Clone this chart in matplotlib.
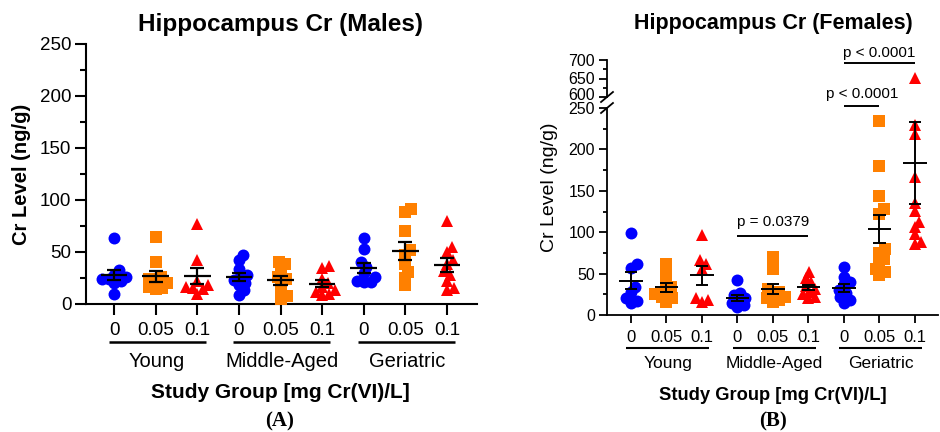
import numpy as np
import matplotlib
matplotlib.use('Agg')
import matplotlib.pyplot as plt
from matplotlib.transforms import blended_transform_factory

plt.rcParams['font.family'] = ['Liberation Sans', 'DejaVu Sans']

# ---------------- data ----------------
doses = ['0', '0.05', '0.1']
ages = ['Young', 'Middle-Aged', 'Geriatric']
dose_colors = ['#0000FF', '#FF8000', '#FF0000']
dose_markers = ['o', 's', '^']

# Males (panel A): each list = one dose group (0, 0.05, 0.1 mg Cr(VI)/L)
males_young = [
    [63, 33, 28, 26, 24, 24, 22, 20, 10],
    [64, 40, 26, 24, 22, 20, 16, 15, 14],
    [77, 42, 22, 18, 16, 15, 14, 10],
]
males_middle = [
    [47, 42, 34, 28, 26, 23, 20, 18, 13, 9],
    [40, 38, 33, 26, 24, 20, 12, 8, 5],
    [37, 35, 24, 20, 16, 13, 12, 10, 9],
]
males_geriatric = [
    [63, 53, 40, 36, 30, 26, 22, 21, 21],
    [91, 88, 70, 52, 47, 38, 31, 25, 18],
    [80, 55, 50, 42, 38, 32, 28, 22, 15, 13],
]

# Females (panel B)
females_young = [
    [99, 61, 57, 34, 28, 20, 17, 14],
    [62, 52, 42, 34, 28, 25, 22, 20, 16],
    [97, 66, 62, 56, 20, 18, 16],
]
females_middle = [
    [42, 26, 24, 20, 18, 15, 12, 10],
    [70, 55, 32, 28, 26, 22, 20, 18, 16],
    [52, 45, 40, 35, 32, 28, 25, 22, 20],
]
females_geriatric = [
    [58, 46, 40, 38, 30, 27, 22, 18, 15],
    [234, 180, 144, 128, 122, 80, 75, 68, 62, 55, 52, 48],
    [652, 229, 218, 167, 135, 126, 112, 106, 98, 88, 86],
]

female_pvalues = [  # (group index a, group index b, text)
    (3, 5, 'p = 0.0379'),
    (6, 7, 'p < 0.0001'),
    (6, 8, 'p < 0.0001'),
]

upper_ticks = [600, 650, 700]

# ---------------- helpers ----------------
W, H = 940, 432
fig = plt.figure(figsize=(W / 100, H / 100), dpi=100)


def fig_rect(x0, y0, x1, y1):
    return [x0 / W, 1 - y1 / H, (x1 - x0) / W, (y1 - y0) / H]


def swarm_offsets(ax, xc, vals, diam_px, k=0.55, max_px=15):
    trans = ax.transData
    px_per_x = trans.transform((1, 0))[0] - trans.transform((0, 0))[0]
    ys = np.array([trans.transform((xc, v))[1] for v in vals])
    order = np.argsort(ys)
    placed = []
    offs = np.zeros(len(vals))
    mind = k * diam_px
    cands = [0.0]
    for s in np.arange(0.5, max_px + 0.01, 0.5):
        cands += [s, -s]
    for idx in order:
        y = ys[idx]
        best = None
        for dx in cands:
            ok = all((dx - px) ** 2 + (y - py) ** 2 >= mind ** 2
                     for (px, py) in placed)
            if ok:
                best = dx
                break
        if best is None:
            best = 0.0
        placed.append((best, y))
        offs[idx] = best / px_per_x
    return offs


def draw_groups(ax, groups, ms, lw, hw, cw, upper_ax=None, split=400):
    for i, vals in enumerate(groups):
        vals = np.array(vals, dtype=float)
        d = i % 3
        col, mk = dose_colors[d], dose_markers[d]
        low = vals[vals < split]
        high = vals[vals >= split]
        offs = swarm_offsets(ax, i, low, ms / 72 * 100)
        ax.plot(i + offs, low, ls='none', marker=mk, color=col, ms=ms,
                mew=0, zorder=3, clip_on=False)
        if upper_ax is not None and len(high):
            upper_ax.plot(np.full(len(high), i), high, ls='none', marker=mk,
                          color=col, ms=ms, mew=0, zorder=3, clip_on=False)
        m = vals.mean()
        sem = vals.std(ddof=1) / np.sqrt(len(vals))
        kw = dict(color='black', lw=lw, zorder=4, solid_capstyle='butt')
        ax.plot([i - hw, i + hw], [m, m], **kw)
        ax.plot([i, i], [m - sem, m + sem], **kw)
        ax.plot([i - cw, i + cw], [m - sem, m - sem], **kw)
        ax.plot([i - cw, i + cw], [m + sem, m + sem], **kw)


def style_axis(ax, spine_lw, maj_len, min_len, tick_fs, xpad):
    for s in ['top', 'right']:
        ax.spines[s].set_visible(False)
    for s in ['left', 'bottom']:
        ax.spines[s].set_linewidth(spine_lw)
    ax.tick_params(axis='y', which='major', length=maj_len, width=spine_lw,
                   labelsize=tick_fs, pad=2.5)
    ax.tick_params(axis='y', which='minor', length=min_len, width=spine_lw)
    ax.tick_params(axis='x', which='major', length=maj_len, width=spine_lw,
                   labelsize=tick_fs, pad=xpad)


def group_labels(ax, line_y, text_y, fs, lw):
    trans = blended_transform_factory(ax.transData, ax.transAxes)
    for g, name in enumerate(ages):
        x0, x1 = g * 3 - 0.13, g * 3 + 2.2
        ax.plot([x0, x1], [line_y, line_y], transform=trans, color='black',
                lw=lw, clip_on=False, solid_capstyle='butt')
        ax.text((x0 + x1) / 2, text_y, name, transform=trans, ha='center',
                va='center', fontsize=fs)


pos = np.arange(9)
xt_labels = doses * 3

# ---------------- Panel A ----------------
axA = fig.add_axes(fig_rect(86, 44, 477, 304))
axA.set_xlim(-0.673, 8.72)
axA.set_ylim(0, 250)
axA.set_yticks(np.arange(0, 251, 50))
axA.set_yticks(np.arange(25, 250, 50), minor=True)
axA.set_xticks(pos)
axA.set_xticklabels(xt_labels)
style_axis(axA, 1.5, 8, 4.3, 13.5, 5)
draw_groups(axA, males_young + males_middle + males_geriatric,
            ms=8.6, lw=1.6, hw=0.32, cw=0.17)
group_labels(axA, -0.146, -0.222, 14.5, 1.8)
axA.set_ylabel('Cr Level (ng/g)', fontsize=14.5, fontweight='bold')
axA.yaxis.set_label_coords(-0.141, 0.5)
fig.text(280 / W, 1 - 25 / H, 'Hippocampus Cr (Males)', ha='center',
         va='center', fontsize=17.5, fontweight='bold')
fig.text(280 / W, 1 - 392 / H, 'Study Group [mg Cr(VI)/L]', ha='center',
         va='center', fontsize=15, fontweight='bold')
fig.text(280 / W, 1 - 421 / H, '(A)', ha='center', va='center', fontsize=15,
         fontweight='bold', family='Liberation Serif')

# ---------------- Panel B ----------------
axB = fig.add_axes(fig_rect(607, 108, 938, 315))
axBu = fig.add_axes(fig_rect(607, 60, 938, 97))
for ax in (axB, axBu):
    ax.set_xlim(-0.676, 8.65)
axB.set_ylim(0, 250)
axBu.set_ylim(600, 700)
axB.set_yticks(np.arange(0, 251, 50))
axB.set_yticks(np.arange(25, 250, 50), minor=True)
axBu.set_yticks(upper_ticks)
axBu.set_yticklabels([])
axBu.set_yticks([625, 675], minor=True)
axB.set_xticks(pos)
axB.set_xticklabels(xt_labels)
style_axis(axB, 1.3, 6, 3, 12, 4.5)
style_axis(axBu, 1.3, 6, 3, 11.5, 4.5)
axB.tick_params(axis='y', labelsize=11.5)
axBu.spines['bottom'].set_visible(False)
axBu.set_xticks([])
axBu.patch.set_alpha(0)
axB.patch.set_alpha(0)
# upper-segment tick labels (600 nudged up so it clears 250)
for t in upper_ticks:
    axBu.annotate(str(t), xy=(0, t), xycoords=('axes fraction', 'data'),
                  xytext=(-8.5, 2.5 if t == 600 else 0),
                  textcoords='offset points', ha='right',
                  va='center_baseline', fontsize=11.5)

draw_groups(axB, females_young + females_middle + females_geriatric,
            ms=8.6, lw=1.4, hw=0.33, cw=0.18, upper_ax=axBu)
group_labels(axB, -0.159, -0.236, 12.5, 1.5)

# axis break marks
for ax, yb, dy in ((axBu, 0.0, 5 / 37), (axB, 1.0, 5 / 207)):
    ax.plot([-0.018, 0.018], [yb - dy, yb + dy], transform=ax.transAxes,
            color='black', lw=1.3, clip_on=False)

# significance brackets
pv_line = {0: (axB, 96, 112), 1: (axB, 252, 267), 2: (axBu, 691, 720)}
for k, (a, b, txt) in enumerate(female_pvalues):
    ax, yl, yt = pv_line[k]
    ax.plot([a, b], [yl, yl], color='black', lw=1.4, clip_on=False,
            solid_capstyle='butt')
    ax.text((a + b) / 2, yt, txt, ha='center', va='center', fontsize=11,
            clip_on=False)

fig.text(550 / W, 1 - 187 / H, 'Cr Level (ng/g)', rotation=90, ha='center',
         va='center', fontsize=14)
fig.text(773 / W, 1 - 23 / H, 'Hippocampus Cr (Females)', ha='center',
         va='center', fontsize=15.5, fontweight='bold')
fig.text(773 / W, 1 - 395 / H, 'Study Group [mg Cr(VI)/L]', ha='center',
         va='center', fontsize=13.2, fontweight='bold')
fig.text(773 / W, 1 - 421 / H, '(B)', ha='center', va='center', fontsize=15,
         fontweight='bold', family='Liberation Serif')

fig.savefig('out.png', dpi=100)
